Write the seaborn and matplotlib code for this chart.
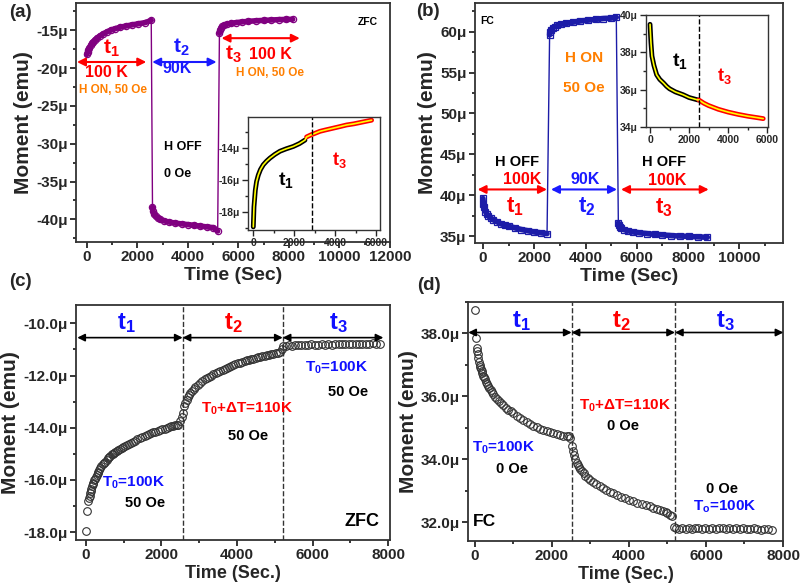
import matplotlib
matplotlib.use("Agg")
import matplotlib.pyplot as plt
from matplotlib.ticker import FuncFormatter, MultipleLocator
import seaborn as sns

# ---------------- data (moment in micro-emu, time in s) ----------------
# (a) ZFC, H on / off / on
a_time_1 = [0, 30, 60, 100, 150, 200, 260, 330, 420, 520, 640, 780, 940, 1120, 1320, 1540, 1780, 2040, 2300, 2550]
a_m_1 = [-18.2, -17.9, -17.6, -17.3, -17.0, -16.75, -16.5, -16.25, -16.0, -15.75, -15.5, -15.25, -15.0, -14.8,
         -14.6, -14.45, -14.3, -14.15, -14.0, -13.7]
a_time_2 = [2600, 2620, 2660, 2720, 2800, 2900, 3050, 3250, 3500, 3750, 4000, 4250, 4500, 4750, 5000, 5180]
a_m_2 = [-38.4, -38.9, -39.3, -39.6, -39.8, -40.0, -40.2, -40.35, -40.5, -40.6, -40.7, -40.8, -40.9, -41.0,
         -41.1, -41.55]
a_time_3 = [5250, 5270, 5310, 5370, 5450, 5550, 5700, 5900, 6150, 6400, 6700, 7000, 7300, 7600, 7900, 8150]
a_m_3 = [-15.4, -15.0, -14.7, -14.5, -14.35, -14.2, -14.1, -14.0, -13.9, -13.82, -13.75, -13.7, -13.65, -13.6,
         -13.57, -13.55]

# (a) inset: t1 and t3 joined
ia_time_1 = [0, 33, 98, 160, 244, 350, 488, 650, 813, 1050, 1300, 1600, 1950, 2250, 2520]
ia_m_1 = [-18.95, -17.7, -16.65, -16.1, -15.7, -15.35, -15.05, -14.82, -14.63, -14.4, -14.2, -14.05, -13.9,
          -13.72, -13.5]
ia_time_3 = [2600, 2800, 3000, 3250, 3500, 3900, 4200, 4550, 4900, 5200, 5500, 5770]
ia_m_3 = [-13.3, -13.18, -13.08, -12.95, -12.87, -12.75, -12.66, -12.55, -12.48, -12.4, -12.32, -12.25]

# (b) FC, H off / on / off
b_time_1 = [0, 20, 50, 100, 150, 200, 300, 400, 550, 700, 850, 1000, 1250, 1500, 1750, 2000, 2250, 2500]
b_m_1 = [39.6, 38.9, 38.5, 38.0, 37.7, 37.5, 37.2, 37.0, 36.75, 36.5, 36.35, 36.2, 36.0, 35.8, 35.65, 35.5,
         35.4, 35.3]
b_time_2 = [2600, 2620, 2660, 2720, 2800, 2900, 3050, 3250, 3500, 3800, 4100, 4400, 4700, 5000, 5200]
b_m_2 = [59.6, 59.9, 60.2, 60.45, 60.6, 60.75, 60.9, 61.0, 61.15, 61.3, 61.4, 61.5, 61.6, 61.65, 61.75]
b_time_3 = [5280, 5300, 5340, 5400, 5500, 5650, 5850, 6100, 6400, 6700, 7000, 7350, 7700, 8050, 8400, 8750]
b_m_3 = [36.6, 36.3, 36.1, 35.95, 35.8, 35.65, 35.5, 35.4, 35.3, 35.2, 35.15, 35.05, 35.0, 34.95, 34.9, 34.85]

# (b) inset
ib_time_1 = [0, 50, 100, 200, 340, 500, 700, 850, 1000, 1300, 1690, 2000, 2450]
ib_m_1 = [39.5, 38.5, 37.8, 37.3, 36.8, 36.55, 36.35, 36.18, 36.05, 35.88, 35.73, 35.58, 35.45]
ib_time_3 = [2500, 2750, 3000, 3500, 4000, 4500, 5000, 5500, 5800]
ib_m_3 = [35.45, 35.28, 35.15, 34.95, 34.8, 34.68, 34.58, 34.5, 34.45]

# (c) ZFC, T0 / T0+dT / T0 at 50 Oe
c_time_1 = [0, 35, 62, 80, 95, 110, 124, 142, 160, 177, 194, 215, 240, 265, 290, 310, 327, 350, 380, 410, 440,
            470, 500, 547, 580, 610, 645, 680, 710, 740, 775, 812, 855, 900, 945, 990, 1030, 1077, 1130, 1180,
            1235, 1290, 1360, 1430, 1495, 1560, 1620, 1680, 1730, 1784, 1840, 1900, 1960, 2020, 2080, 2137,
            2190, 2250, 2300, 2350, 2400, 2446, 2490, 2530, 2560]
c_m_1 = [-17.96, -17.18, -16.79, -16.7, -16.6, -16.5, -16.41, -16.33, -16.25, -16.17, -16.1, -16.02, -15.95,
         -15.87, -15.8, -15.74, -15.68, -15.62, -15.55, -15.47, -15.4, -15.35, -15.3, -15.23, -15.17, -15.12,
         -15.07, -15.02, -14.99, -14.97, -14.94, -14.91, -14.86, -14.82, -14.77, -14.72, -14.69, -14.65,
         -14.61, -14.57, -14.53, -14.5, -14.45, -14.4, -14.36, -14.32, -14.28, -14.25, -14.21, -14.18, -14.15,
         -14.12, -14.09, -14.06, -14.03, -14.01, -13.98, -13.95, -13.93, -13.91, -13.9, -13.88, -13.76,
         -13.6, -13.45]
c_time_2 = [2596, 2630, 2667, 2700, 2730, 2765, 2799, 2850, 2900, 2960, 3020, 3080, 3140, 3200, 3260, 3315,
            3373, 3440, 3500, 3560, 3620, 3670, 3726, 3790, 3850, 3905, 3960, 4020, 4079, 4140, 4200, 4260,
            4320, 4375, 4432, 4490, 4550, 4610, 4670, 4730, 4786, 4840, 4900, 4960, 5020, 5080, 5139]
c_m_2 = [-13.18, -13.05, -12.92, -12.83, -12.75, -12.67, -12.6, -12.52, -12.45, -12.36, -12.28, -12.21, -12.15,
         -12.1, -12.05, -12.0, -11.96, -11.91, -11.87, -11.82, -11.78, -11.74, -11.7, -11.66, -11.63, -11.6,
         -11.57, -11.54, -11.51, -11.48, -11.45, -11.42, -11.4, -11.38, -11.36, -11.33, -11.31, -11.29,
         -11.27, -11.25, -11.23, -11.2, -11.18, -11.16, -11.14, -11.12, -11.1]
c_time_3 = [5180, 5227, 5300, 5380, 5460, 5540, 5620, 5700, 5790, 5880, 5970, 6060, 6150, 6240, 6330, 6420,
            6510, 6600, 6690, 6780, 6870, 6960, 7050, 7140, 7230, 7320, 7410, 7500, 7590, 7680, 7788]
c_m_3 = [-10.98, -10.88, -10.86, -10.84, -10.86, -10.83, -10.85, -10.82, -10.84, -10.83, -10.81, -10.83,
         -10.82, -10.80, -10.82, -10.81, -10.83, -10.80, -10.81, -10.79, -10.81, -10.80, -10.78, -10.80,
         -10.79, -10.81, -10.78, -10.79, -10.77, -10.78, -10.79]

# (d) FC, T0 / T0+dT / T0 at 0 Oe
d_time_1 = [0, 26, 43, 56, 69, 86, 104, 122, 140, 157, 173, 195, 215, 238, 260, 285, 310, 340, 372, 405, 440,
            480, 519, 570, 620, 680, 736, 800, 860, 930, 996, 1080, 1160, 1250, 1342, 1425, 1510, 1600, 1688,
            1775, 1860, 1950, 2035, 2120, 2200, 2290, 2381, 2430, 2468]
d_m_1 = [38.76, 37.87, 37.55, 37.44, 37.34, 37.22, 37.1, 37.01, 36.93, 36.86, 36.8, 36.73, 36.66, 36.6, 36.54,
         36.47, 36.4, 36.34, 36.28, 36.2, 36.13, 36.06, 35.99, 35.92, 35.85, 35.78, 35.71, 35.64, 35.58,
         35.52, 35.46, 35.39, 35.32, 35.25, 35.18, 35.12, 35.07, 35.02, 34.97, 34.93, 34.9, 34.87, 34.84,
         34.81, 34.78, 34.75, 34.73, 34.75, 34.68]
d_time_2 = [2511, 2540, 2571, 2605, 2641, 2670, 2700, 2735, 2771, 2820, 2870, 2930, 2987, 3070, 3150, 3240,
            3333, 3415, 3500, 3590, 3680, 3790, 3900, 4005, 4113, 4220, 4330, 4440, 4545, 4630, 4720, 4810,
            4892, 4950, 5000, 5055, 5108]
d_m_2 = [34.41, 34.27, 34.15, 34.0, 33.88, 33.81, 33.75, 33.68, 33.62, 33.55, 33.48, 33.41, 33.35, 33.28,
         33.21, 33.15, 33.09, 33.03, 32.97, 32.92, 32.87, 32.81, 32.76, 32.71, 32.66, 32.62, 32.58, 32.54,
         32.5, 32.46, 32.42, 32.38, 32.34, 32.31, 32.28, 32.23, 32.18]
d_time_3 = [5169, 5230, 5310, 5390, 5470, 5550, 5630, 5710, 5800, 5890, 5980, 6070, 6160, 6250, 6340, 6430,
            6520, 6610, 6700, 6790, 6880, 6970, 7060, 7150, 7240, 7330, 7420, 7510, 7600, 7706]
d_m_3 = [31.86, 31.80, 31.78, 31.82, 31.79, 31.81, 31.77, 31.80, 31.82, 31.78, 31.80, 31.79, 31.81, 31.77,
         31.80, 31.82, 31.78, 31.80, 31.79, 31.81, 31.78, 31.80, 31.77, 31.79, 31.81, 31.78, 31.76, 31.79,
         31.77, 31.76]

# interval boundaries (s)
c_bounds = [2560, 5210]
d_bounds = [2511, 5195]
ia_bound = 2845
ib_bound = 2490

PURPLE = "#800080"
NAVY = "#1c1ca8"
RED = "#ff0000"
BLUE = "#1010ff"
ORANGE = "#ff7f00"

# ---------------- style ----------------
sns.set_style("ticks")
plt.rcParams["font.family"] = ["Liberation Sans", "DejaVu Sans"]
plt.rcParams["font.weight"] = "bold"
plt.rcParams["axes.labelweight"] = "bold"
plt.rcParams["mathtext.fontset"] = "custom"
plt.rcParams["mathtext.rm"] = "Liberation Sans:bold"
plt.rcParams["mathtext.it"] = "Liberation Sans:bold"
plt.rcParams["mathtext.bf"] = "Liberation Sans:bold"


def fmt_mu(decimals):
    return FuncFormatter(lambda v, p: f"{v:.{decimals}f}\u03bc")


def style_ax(ax, xmaj, xmin, ymaj, ymin, dec, fs=11, lw=1.3):
    ax.xaxis.set_major_locator(MultipleLocator(xmaj))
    ax.xaxis.set_minor_locator(MultipleLocator(xmin))
    ax.yaxis.set_major_locator(MultipleLocator(ymaj))
    ax.yaxis.set_minor_locator(MultipleLocator(ymin))
    ax.yaxis.set_major_formatter(fmt_mu(dec))
    ax.tick_params(which="major", direction="out", length=4, width=lw, labelsize=fs, pad=2)
    ax.tick_params(which="minor", direction="out", length=2.5, width=lw)
    for s in ax.spines.values():
        s.set_linewidth(lw)
        s.set_color("#333333")
        s.set_visible(True)


def darrow(ax, x0, x1, y, color, lw=1.5, ms=12):
    ax.annotate("", xy=(x1, y), xytext=(x0, y), annotation_clip=False,
                arrowprops=dict(arrowstyle="<|-|>", color=color, lw=lw, mutation_scale=ms,
                                shrinkA=0, shrinkB=0))


def txt(ax, x, y, s, color="black", fs=11, ha="center"):
    ax.text(x, y, s, color=color, fontsize=fs, ha=ha, va="center", fontweight="bold")


def band(ax, segs, color, marker):
    # thin connecting line across all segments, thick band per segment
    all_t = [t for tt, _ in segs for t in tt]
    all_m = [m for _, mm in segs for m in mm]
    sns.lineplot(x=all_t, y=all_m, ax=ax, color=color, lw=1, sort=False, estimator=None)
    for tt, mm in segs:
        sns.lineplot(x=tt, y=mm, ax=ax, color=color, lw=4, sort=False, estimator=None)
        sns.lineplot(x=tt, y=mm, ax=ax, color=color, lw=0, marker=marker, ms=4.5,
                     markerfacecolor="none", markeredgecolor=color, mew=0.9,
                     sort=False, estimator=None)


fig = plt.figure(figsize=(8.03, 5.88), dpi=100)

# ---------------- (a) ----------------
ax = fig.add_axes([0.0946, 0.5884, 0.3910, 0.4065])
band(ax, [(a_time_1, a_m_1), (a_time_2, a_m_2), (a_time_3, a_m_3)], PURPLE, "o")
ax.set_xlim(-430, 12000)
ax.set_ylim(-43.0, -11.4)
style_ax(ax, 2000, 1000, 5, 2.5, 0)
ax.set_xlabel("Time (Sec)", fontsize=14, labelpad=2)
ax.set_ylabel("Moment (emu)", fontsize=15, labelpad=2)
darrow(ax, -390, 2353, -19.2, RED)
darrow(ax, 2588, 5137, -19.2, "#1a1aff")
darrow(ax, 5333, 8431, -16.05, RED)
txt(ax, 986, -17.4, "t$_1$", RED, 15)
txt(ax, 784, -20.6, "100 K", RED, 11.5)
txt(ax, 1020, -22.9, "H ON, 50 Oe", ORANGE, 8.5)
txt(ax, 3725, -17.3, "t$_2$", "#1a1aff", 15)
txt(ax, 3570, -20.1, "90K", "#1a1aff", 11.5)
txt(ax, 5804, -18.2, "t$_3$", RED, 15)
txt(ax, 7255, -18.2, "100 K", RED, 11.5)
txt(ax, 7255, -20.6, "H ON, 50 Oe", ORANGE, 8.5)
txt(ax, 3060, -30.5, "H OFF", fs=9, ha="left")
txt(ax, 3060, -34.0, "0 Oe", fs=9, ha="left")
txt(ax, 11500, -13.95, "ZFC", fs=7.5, ha="right")

# (a) inset
axi = fig.add_axes([0.3088, 0.6088, 0.1644, 0.1922])
sns.lineplot(x=ia_time_1, y=ia_m_1, ax=axi, color="black", lw=3.5, sort=False, estimator=None)
sns.lineplot(x=ia_time_3, y=ia_m_3, ax=axi, color=RED, lw=3.5, sort=False, estimator=None)
sns.lineplot(x=ia_time_1 + ia_time_3, y=ia_m_1 + ia_m_3, ax=axi, color="yellow", lw=1.2,
             sort=False, estimator=None)
axi.axvline(ia_bound, color="black", ls="--", lw=1)
axi.set_xlim(-260, 6180)
axi.set_ylim(-19.15, -12.05)
style_ax(axi, 2000, 1000, 2, 1, 0, fs=7.5, lw=1)
txt(axi, 1607, -16.0, "t$_1$", "black", 14)
txt(axi, 4189, -14.75, "t$_3$", RED, 13)

# ---------------- (b) ----------------
ax = fig.add_axes([0.5915, 0.5867, 0.3836, 0.4082])
band(ax, [(b_time_1, b_m_1), (b_time_2, b_m_2), (b_time_3, b_m_3)], NAVY, "s")
ax.set_xlim(-310, 11700)
ax.set_ylim(34.15, 63.5)
style_ax(ax, 2000, 1000, 5, 2.5, 0)
ax.set_xlabel("Time (Sec)", fontsize=14, labelpad=2)
ax.set_ylabel("Moment (emu)", fontsize=15, labelpad=2)
darrow(ax, -208, 2497, 40.7, RED)
darrow(ax, 2653, 5228, 40.7, "#1a1aff")
darrow(ax, 5384, 8804, 40.7, RED)
txt(ax, -100, 61.3, "FC", fs=7.5, ha="left")
txt(ax, 3927, 56.8, "H ON", ORANGE, 11)
txt(ax, 3927, 53.1, "50 Oe", ORANGE, 11)
txt(ax, 1326, 44.1, "H OFF", fs=10.5)
txt(ax, 1521, 41.9, "100K", RED, 11.5)
txt(ax, 1261, 38.6, "t$_1$", RED, 16)
txt(ax, 3992, 41.9, "90K", "#1a1aff", 11.5)
txt(ax, 4057, 38.6, "t$_2$", "#1a1aff", 16)
txt(ax, 7048, 44.1, "H OFF", fs=10.5)
txt(ax, 7178, 41.8, "100K", RED, 11.5)
txt(ax, 7048, 38.5, "t$_3$", RED, 16)

# (b) inset
axi = fig.add_axes([0.8045, 0.784, 0.152, 0.1905])
sns.lineplot(x=ib_time_1, y=ib_m_1, ax=axi, color="black", lw=3.5, sort=False, estimator=None)
sns.lineplot(x=ib_time_3, y=ib_m_3, ax=axi, color=RED, lw=3.5, sort=False, estimator=None)
sns.lineplot(x=ib_time_1 + ib_time_3, y=ib_m_1 + ib_m_3, ax=axi, color="yellow", lw=1.2,
             sort=False, estimator=None)
axi.axvline(ib_bound, color="black", ls="--", lw=1)
axi.set_xlim(-205, 6050)
axi.set_ylim(34, 40)
style_ax(axi, 2000, 1000, 2, 1, 0, fs=7.5, lw=1)
txt(axi, 1525, 37.55, "t$_1$", "black", 14)
txt(axi, 3813, 36.73, "t$_3$", RED, 13)

# ---------------- (c) ----------------
ax = fig.add_axes([0.0946, 0.0816, 0.3910, 0.3997])
for tt, mm in [(c_time_1, c_m_1), (c_time_2, c_m_2), (c_time_3, c_m_3)]:
    sns.lineplot(x=tt, y=mm, ax=ax, lw=0, marker="o", ms=5.5, markerfacecolor="none",
                 markeredgecolor="#333333", mew=0.8, sort=False, estimator=None)
for b in c_bounds:
    ax.axvline(b, color="#333333", ls="--", lw=1)
ax.set_xlim(-265, 8050)
ax.set_ylim(-18.3, -9.3)
style_ax(ax, 2000, 1000, 2, 1, 1)
ax.set_xlabel("Time (Sec.)", fontsize=13, labelpad=2)
ax.set_ylabel("Moment (emu)", fontsize=15, labelpad=2)
darrow(ax, -230, c_bounds[0], -10.55, "black", lw=1.2, ms=11)
darrow(ax, c_bounds[0], c_bounds[1], -10.55, "black", lw=1.2, ms=11)
darrow(ax, c_bounds[1], 7876, -10.55, "black", lw=1.2, ms=11)
txt(ax, 1077, -10.0, "t$_1$", BLUE, 17)
txt(ax, 3903, -10.0, "t$_2$", RED, 17)
txt(ax, 6684, -10.0, "t$_3$", BLUE, 17)
txt(ax, 1254, -16.1, "T$_0$=100K", BLUE, 11)
txt(ax, 1563, -16.9, "50 Oe", fs=10.5)
txt(ax, 4256, -13.28, "T$_0$+\u0394T=110K", RED, 11)
txt(ax, 4300, -14.3, "50 Oe", fs=10.5)
txt(ax, 6640, -11.7, "T$_0$=100K", BLUE, 11)
txt(ax, 6950, -12.64, "50 Oe", fs=10.5)
txt(ax, 7300, -17.6, "ZFC", fs=13)

# ---------------- (d) ----------------
ax = fig.add_axes([0.5828, 0.0799, 0.3923, 0.4065])
for tt, mm in [(d_time_1, d_m_1), (d_time_2, d_m_2), (d_time_3, d_m_3)]:
    sns.lineplot(x=tt, y=mm, ax=ax, lw=0, marker="o", ms=5.5, markerfacecolor="none",
                 markeredgecolor="#333333", mew=0.8, sort=False, estimator=None)
for b in d_bounds:
    ax.axvline(b, color="#333333", ls="--", lw=1)
ax.set_xlim(-180, 8000)
ax.set_ylim(31.4, 39.0)
style_ax(ax, 2000, 1000, 2, 1, 1)
ax.set_xlabel("Time (Sec.)", fontsize=13, labelpad=2)
ax.set_ylabel("Moment (emu)", fontsize=15, labelpad=2)
darrow(ax, -173, d_bounds[0], 38.03, "black", lw=1.2, ms=11)
darrow(ax, d_bounds[0], d_bounds[1], 38.03, "black", lw=1.2, ms=11)
darrow(ax, d_bounds[1], 8009, 38.03, "black", lw=1.2, ms=11)
txt(ax, 1212, 38.4, "t$_1$", BLUE, 17)
txt(ax, 3810, 38.4, "t$_2$", RED, 17)
txt(ax, 6494, 38.4, "t$_3$", BLUE, 17)
txt(ax, 736, 34.36, "T$_0$=100K", BLUE, 11)
txt(ax, 952, 33.69, "0 Oe", fs=10.5)
txt(ax, 3896, 35.69, "T$_0$+\u0394T=110K", RED, 11)
txt(ax, 3853, 35.07, "0 Oe", fs=10.5)
txt(ax, 6407, 33.05, "0 Oe", fs=10.5)
txt(ax, 6494, 32.5, "T$_o$=100K", BLUE, 11)
txt(ax, -43, 32.02, "FC", fs=12.5, ha="left")

# panel letters
for x, y, s in [(0.025, 0.978, "(a)"), (0.533, 0.980, "(b)"), (0.025, 0.522, "(c)"), (0.534, 0.515, "(d)")]:
    fig.text(x, y, s, fontsize=13.5, fontweight="bold", ha="center", va="center")

fig.savefig("out.png", dpi=100)
